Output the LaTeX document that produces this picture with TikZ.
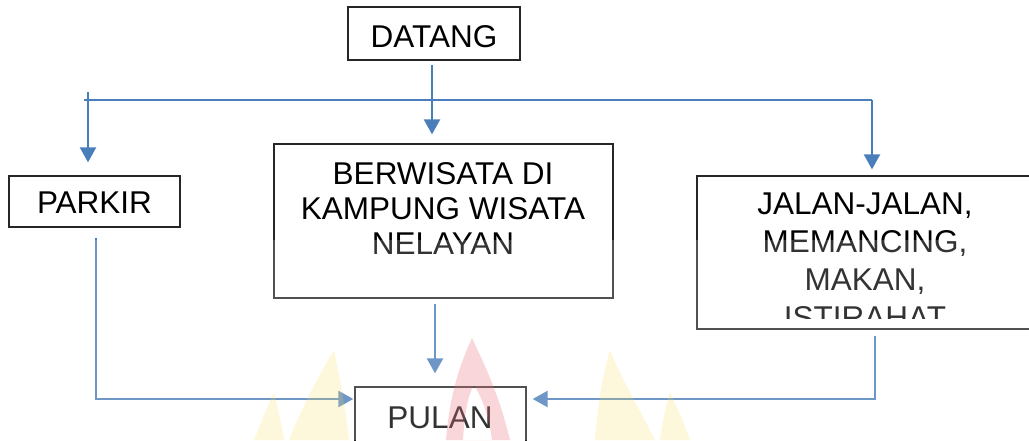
\documentclass[tikz,border=0pt]{standalone}
\usepackage{fontspec}
\setmainfont{Liberation Sans}
\usetikzlibrary{arrows.meta,calc}
\definecolor{lineblue}{RGB}{74,126,187}
\definecolor{wmyellow}{RGB}{246,222,80}
\definecolor{wmred}{RGB}{236,110,120}
\begin{document}
\begin{tikzpicture}[x=1pt,y=-1pt,
  box/.style={draw=black!85, line width=1.3pt, inner sep=0pt},
  lbl/.style={inner sep=0pt, font=\fontsize{31.5}{35}\selectfont, align=center},
  conn/.style={draw=lineblue, line width=2.4pt, -{Triangle[width=16pt,length=15pt]}},
  plain/.style={draw=lineblue, line width=2.4pt}]
\useasboundingbox (0,0) rectangle (1029,440);
% boxes
\node[box, minimum width=172pt, minimum height=53pt] (datang) at (434,33.5) {};
\node[box, minimum width=171pt, minimum height=51pt] (parkir) at (94.5,201.5) {};
\node[box, minimum width=339pt, minimum height=154pt] (berw) at (443.5,221) {};
\node[box, minimum width=337pt, minimum height=153pt] (jalan) at (865.5,252.5) {};
\node[box, minimum width=171pt, minimum height=60pt] (pulan) at (440.5,417) {};
% texts
\node[lbl, anchor=base] (datangt) at (434,47) {DATANG};
\node[lbl, anchor=base] (parkirt) at (94.5,213) {PARKIR};
\node[lbl, anchor=north] (berwt) at (443,162) {BERWISATA DI\\KAMPUNG WISATA\\NELAYAN};
\begin{scope}
\clip (697,176) rectangle (1029,318);
\node[lbl, anchor=north, font=\fontsize{31.5}{38}\selectfont] (jalant) at (865,193) {JALAN-JALAN,\\MEMANCING,\\MAKAN,\\ISTIRAHAT};
\end{scope}
\node[lbl, anchor=base] (pulant) at (440,428) {PULAN};
% connectors
\coordinate (barL) at (84,100);
\coordinate (barR) at (872,100);
\draw[conn] ($(datang.south)+(-2,4)$) -- ($(berw.north)+(-11.5,-9)$);
\draw[plain] (barL) -- (barR);
\draw[conn] ($(parkir.north)+(-6.5,-83)$) -- ($(parkir.north)+(-6.5,-13)$);
\draw[conn] (barR) -- ($(jalan.north)+(6.5,-6)$);
\draw[conn] ($(parkir.south)+(1.5,10)$) |- ($(pulan.west)+(-1,-18)$);
\draw[conn] ($(berw.south)+(-8.5,5)$) -- ($(pulan.north)+(-5.5,-13)$);
\draw[conn] ($(jalan.south)+(9.5,6)$) |- ($(pulan.east)+(6,-18)$);
% washed-out lower band
\fill[white, opacity=0.2] (0,240) rectangle (1029,440);
% watermark
\begin{scope}[opacity=0.2]
\fill[wmyellow] (289,440) .. controls (305,400) and (322,370) .. (334,350) .. controls (340,380) and (346,410) .. (349,440) -- cycle;
\fill[wmyellow] (254,440) .. controls (262,420) and (268,405) .. (274,392) .. controls (278,410) and (282,425) .. (284,440) -- cycle;
\fill[wmyellow] (595,440) .. controls (598,400) and (604,370) .. (610,350) .. controls (622,380) and (640,410) .. (655,440) -- cycle;
\fill[wmyellow] (660,440) .. controls (663,420) and (666,405) .. (670,392) .. controls (678,410) and (685,425) .. (690,440) -- cycle;
\end{scope}
\fill[wmred, opacity=0.28, even odd rule] (446,440) .. controls (450,390) and (462,360) .. (472,338) .. controls (482,360) and (498,390) .. (510,440) -- cycle
  (463,440) .. controls (465,410) and (468,395) .. (474,385) .. controls (480,395) and (488,410) .. (492,440) -- cycle;
\end{tikzpicture}
\end{document}
